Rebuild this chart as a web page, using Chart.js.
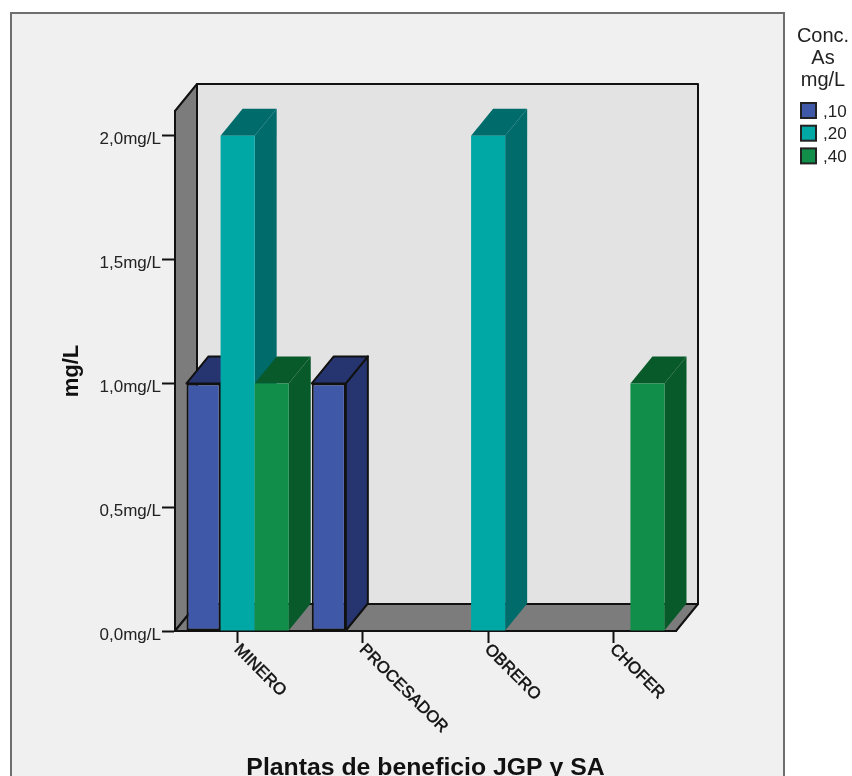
<!DOCTYPE html>
<html>
<head>
<meta charset="utf-8">
<title>Conc. As mg/L</title>
<script src="https://cdn.jsdelivr.net/npm/chart.js@4"></script>
<style>
    body { margin: 0; background: #fff; }
    canvas { display: block; }
</style>
</head>
<body>
<canvas id="barChart" width="852" height="776"></canvas>
<script>
const categories = ['MINERO', 'PROCESADOR', 'OBRERO', 'CHOFER'];
const seriesLabels = [',10', ',20', ',40'];
const conc10 = [1, 1, null, null];
const conc20 = [2, null, 2, null];
const conc40 = [1, null, null, 1];
const legendTitle = ['Conc.', 'As', 'mg/L'];

const FONT = '"Liberation Sans", Arial, sans-serif';
const DEPTH_X = 22;
const DEPTH_Y = 27;

const fronts = ['#3f58a8', '#00a8a5', '#118e4a'];
const shades = ['#263570', '#006b6b', '#085a2a'];
const borders = ['#111111', '#00a8a5', '#118e4a'];

function polygon(ctx, points, fill, stroke, lineWidth) {
    ctx.beginPath();
    points.forEach(([x, y], i) => i ? ctx.lineTo(x, y) : ctx.moveTo(x, y));
    ctx.closePath();
    ctx.fillStyle = fill;
    ctx.fill();
    if (stroke) {
        ctx.strokeStyle = stroke;
        ctx.lineWidth = lineWidth;
        ctx.lineJoin = 'round';
        ctx.stroke();
    }
}

// Panel behind the chart plus the back wall, left wall and floor of the box
const boxPlugin = {
    id: 'box',
    beforeDraw(chart) {
        const { ctx, chartArea: { left, right, top, bottom } } = chart;
        ctx.save();
        ctx.fillStyle = '#f0f0f0';
        ctx.strokeStyle = '#6e6e6e';
        ctx.lineWidth = 2;
        ctx.fillRect(11, 13, 773, 790);
        ctx.strokeRect(11, 13, 773, 790);

        polygon(ctx, [[left + DEPTH_X, top - DEPTH_Y], [right + DEPTH_X, top - DEPTH_Y],
            [right + DEPTH_X, bottom - DEPTH_Y], [left + DEPTH_X, bottom - DEPTH_Y]], '#e3e3e3', '#111', 2);
        polygon(ctx, [[left, top], [left + DEPTH_X, top - DEPTH_Y],
            [left + DEPTH_X, bottom - DEPTH_Y], [left, bottom]], '#7c7c7c', '#111', 2);
        polygon(ctx, [[left, bottom], [left + DEPTH_X, bottom - DEPTH_Y],
            [right + DEPTH_X, bottom - DEPTH_Y], [right, bottom]], '#7c7c7c', '#111', 2);
        ctx.restore();
    }
};

// Draws bars first series first, each with its top and side face, so later bars overlap earlier ones
const barsPlugin = {
    id: 'bars3d',
    beforeDatasetDraw() {
        return false;
    },
    beforeDatasetsDraw(chart) {
        const ctx = chart.ctx;
        chart.data.datasets.forEach((dataset, d) => {
            const meta = chart.getDatasetMeta(d);
            const stroke = d === 0 ? '#111111' : null;
            meta.data.forEach((bar, i) => {
                if (dataset.data[i] === null) return;
                const { x, y, base, width } = bar.getProps(['x', 'y', 'base', 'width'], true);
                const l = x - width / 2;
                const r = x + width / 2;
                ctx.save();
                polygon(ctx, [[r, y], [r + DEPTH_X, y - DEPTH_Y], [r + DEPTH_X, base - DEPTH_Y], [r, base]], shades[d], stroke, 2);
                polygon(ctx, [[l, y], [l + DEPTH_X, y - DEPTH_Y], [r + DEPTH_X, y - DEPTH_Y], [r, y]], shades[d], stroke, 2);
                ctx.restore();
                bar.draw(ctx);
            });
        });
    }
};

// Tick labels sit a little under their tick marks and the category names hang
// down to the right, neither of which the scales can do on their own
const labelsPlugin = {
    id: 'labels',
    afterDraw(chart) {
        const { ctx, scales: { x: xScale, y: yScale }, chartArea: { bottom } } = chart;
        ctx.save();
        ctx.fillStyle = '#111';
        ctx.strokeStyle = '#111';
        ctx.lineWidth = 0.5;
        ctx.font = '16.5px ' + FONT;
        ctx.textAlign = 'left';
        ctx.textBaseline = 'middle';
        xScale.ticks.forEach((tick, i) => {
            ctx.save();
            ctx.translate(xScale.getPixelForTick(i) - 1, bottom + 16);
            ctx.rotate(Math.PI / 4);
            ctx.fillText(tick.label, 0, 0);
            ctx.strokeText(tick.label, 0, 0);
            ctx.restore();
        });

        ctx.fillStyle = '#222';
        ctx.font = '17px ' + FONT;
        ctx.textAlign = 'right';
        yScale.ticks.forEach((tick, i) => {
            ctx.fillText(tick.label, 161, yScale.getPixelForTick(i) + 4);
        });

        ctx.textAlign = 'center';
        ctx.font = '20px ' + FONT;
        legendTitle.forEach((line, i) => ctx.fillText(line, 823, 36 + i * 22));

        ctx.textAlign = 'left';
        ctx.font = '17px ' + FONT;
        seriesLabels.forEach((label, i) => {
            const y = 103 + i * 22.7;
            ctx.fillStyle = fronts[i];
            ctx.strokeStyle = '#222';
            ctx.lineWidth = 2;
            ctx.fillRect(801, y, 15, 15);
            ctx.strokeRect(801, y, 15, 15);
            ctx.fillStyle = '#222';
            ctx.fillText(label, 823, y + 9);
        });
        ctx.restore();
    }
};

new Chart(document.getElementById('barChart').getContext('2d'), {
    type: 'bar',
    data: {
        labels: categories,
        datasets: [conc10, conc20, conc40].map((values, i) => ({
            label: seriesLabels[i],
            data: values,
            backgroundColor: fronts[i],
            borderColor: borders[i],
            borderWidth: i === 0 ? 2 : 0,
            borderSkipped: false
        }))
    },
    plugins: [boxPlugin, barsPlugin, labelsPlugin],
    options: {
        responsive: false,
        animation: false,
        categoryPercentage: 0.816,
        barPercentage: 1,
        layout: { padding: { left: 59, right: 176, top: 111, bottom: 0 } },
        plugins: {
            legend: { display: false },
            tooltip: { enabled: false }
        },
        scales: {
            x: {
                afterFit: scale => { scale.height = 145; },
                grid: { offset: false, drawOnChartArea: false, tickLength: 12, tickColor: '#111', tickWidth: 2 },
                border: { color: '#111', width: 2 },
                ticks: { display: false },
                title: {
                    display: true,
                    text: 'Plantas de beneficio JGP y SA',
                    color: '#111',
                    font: { family: FONT, size: 24.8, weight: 'bold', lineHeight: 1 },
                    padding: { top: 0, bottom: -4.5 }
                }
            },
            y: {
                min: 0,
                max: 2.1,
                afterFit: scale => { scale.width = 116; },
                grid: { drawOnChartArea: false, tickLength: 13, tickColor: '#111', tickWidth: 2 },
                border: { color: '#111', width: 2 },
                ticks: {
                    display: false,
                    stepSize: 0.5,
                    includeBounds: false,
                    callback: value => value.toFixed(1).replace('.', ',') + 'mg/L'
                },
                title: {
                    display: true,
                    text: 'mg/L',
                    color: '#111',
                    font: { family: FONT, size: 22, weight: 'bold' },
                    padding: { top: 0, bottom: 0 }
                }
            }
        }
    }
});
</script>
</body>
</html>
